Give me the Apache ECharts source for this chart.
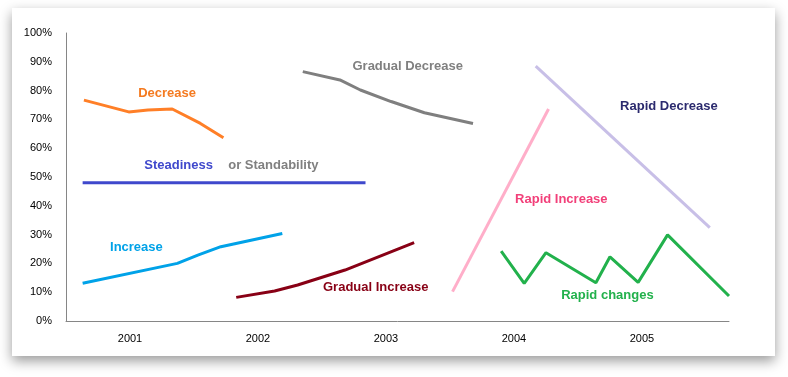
<!DOCTYPE html>
<html>
<head>
<meta charset="utf-8">
<script src="https://cdn.jsdelivr.net/npm/echarts@6/dist/echarts.min.js"></script>
<style>
html,body{margin:0;padding:0;background:#fff;}
#chart{width:788px;height:377px;}
</style>
</head>
<body>
<div id="chart"></div>
<script>
// x values are in years (fractional), y values in percent
var years = [2001, 2002, 2003, 2004, 2005];
var yTicks = [0, 10, 20, 30, 40, 50, 60, 70, 80, 90, 100];

var decreaseX = [2000.64, 2000.99, 2001.14, 2001.33, 2001.55, 2001.73];
var decreaseY = [76.7, 72.6, 73.3, 73.6, 68.6, 63.6];

var gradualDecX = [2002.35, 2002.64, 2002.80, 2003.04, 2003.30, 2003.68];
var gradualDecY = [86.6, 83.7, 80.2, 76.2, 72.3, 68.6];

var steadyX = [2000.63, 2002.84];
var steadyY = [48.0, 48.0];

var increaseX = [2000.63, 2001.37, 2001.53, 2001.71, 2002.19];
var increaseY = [13.1, 20.0, 22.9, 25.8, 30.4];

var gradualIncX = [2001.83, 2002.13, 2002.31, 2002.68, 2003.22];
var gradualIncY = [8.2, 10.4, 12.5, 17.7, 27.2];

var rapidIncX = [2003.52, 2004.27];
var rapidIncY = [10.2, 73.6];

var rapidDecX = [2004.17, 2005.53];
var rapidDecY = [88.5, 32.4];

var changesX = [2003.90, 2004.08, 2004.25, 2004.64, 2004.75, 2004.97, 2005.20, 2005.68];
var changesY = [24.3, 13.1, 23.7, 13.3, 22.3, 13.4, 29.9, 8.7];

var noteText = ['Decrease', 'Gradual Decrease', 'Steadiness', 'or Standability', 'Increase',
                'Gradual Increase', 'Rapid Increase', 'Rapid Decrease', 'Rapid changes'];
var noteX = [2001.29, 2003.17, 2001.38, 2002.12, 2001.05, 2002.92, 2004.37, 2005.21, 2004.73];
var noteY = [79.0, 88.3, 54.0, 54.0, 25.5, 11.6, 42.2, 74.5, 8.8];
var noteColor = ['#F47A20', '#808080', '#3F48CC', '#808080', '#00A2E8',
                 '#880015', '#F2407A', '#2B2A6E', '#22B14C'];

function pairs(xs, ys) {
  return xs.map(function (x, i) { return [x, ys[i]]; });
}

function lineSeries(name, xs, ys, color) {
  return {
    name: name,
    type: 'line',
    data: pairs(xs, ys),
    symbol: 'none',
    smooth: false,
    lineStyle: {color: color, width: 3},
    z: 3
  };
}

var myChart = echarts.init(document.getElementById('chart'));
var option = {
  backgroundColor: '#fff',
  animation: false,
  textStyle: {fontFamily: 'Liberation Sans, Arial, sans-serif'},
  graphic: [{
    type: 'rect',
    z: -10,
    shape: {x: 12, y: 8, width: 763, height: 348},
    style: {
      fill: '#fff',
      shadowBlur: 12,
      shadowOffsetY: 5,
      shadowColor: 'rgba(0,0,0,0.4)'
    }
  }],
  grid: {left: 66, right: 59, top: 33, bottom: 56},
  xAxis: {
    type: 'value',
    min: 2000.5,
    max: 2005.68,
    splitLine: {show: false},
    axisLine: {lineStyle: {color: '#868686'}},
    axisTick: {show: false},
    axisLabel: {
      customValues: years,
      margin: 12,
      color: '#000',
      fontSize: 11,
      formatter: function (v) { return String(Math.round(v)); }
    }
  },
  yAxis: {
    type: 'value',
    min: 0,
    max: 100,
    interval: 10,
    splitLine: {show: false},
    axisLine: {show: true, lineStyle: {color: '#868686'}},
    axisTick: {show: false},
    axisLabel: {
      color: '#000',
      fontSize: 11,
      margin: 14,
      formatter: '{value}%'
    }
  },
  series: [
    lineSeries('Decrease', decreaseX, decreaseY, '#FF7F27'),
    lineSeries('Gradual Decrease', gradualDecX, gradualDecY, '#7F7F7F'),
    lineSeries('Steadiness', steadyX, steadyY, '#3F48CC'),
    lineSeries('Increase', increaseX, increaseY, '#00A2E8'),
    lineSeries('Gradual Increase', gradualIncX, gradualIncY, '#880015'),
    lineSeries('Rapid Increase', rapidIncX, rapidIncY, '#FFAEC9'),
    lineSeries('Rapid Decrease', rapidDecX, rapidDecY, '#C8BFE7'),
    lineSeries('Rapid changes', changesX, changesY, '#22B14C'),
    {
      name: 'notes',
      type: 'scatter',
      symbolSize: 0,
      z: 5,
      itemStyle: {opacity: 1},
      data: noteText.map(function (t, i) {
        return {
          name: t,
          value: [noteX[i], noteY[i]],
          label: {color: noteColor[i]}
        };
      }),
      label: {
        show: true,
        position: 'inside',
        formatter: '{b}',
        fontSize: 13,
        fontWeight: 'bold',
        opacity: 1
      }
    }
  ]
};
myChart.setOption(option);
</script>
</body>
</html>
